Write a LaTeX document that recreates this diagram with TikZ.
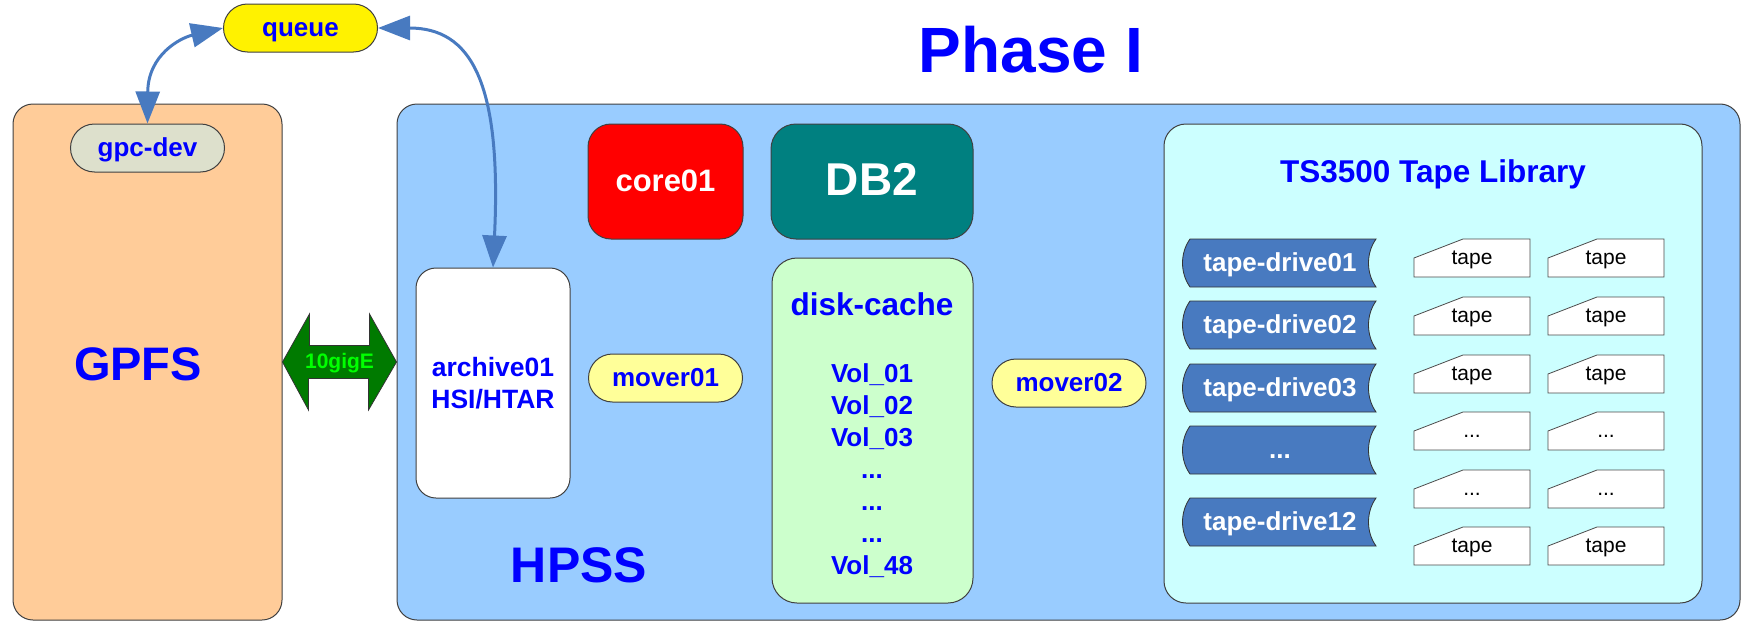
\documentclass[tikz,border=0pt]{standalone}
\usepackage{fontspec}
\setmainfont{Liberation Sans}
\usetikzlibrary{arrows.meta, positioning, calc}
\definecolor{gpfsorange}{RGB}{255,204,153}
\definecolor{hpssblue}{RGB}{153,204,255}
\definecolor{libcyan}{RGB}{204,255,255}
\definecolor{diskgreen}{RGB}{204,255,204}
\definecolor{moveryellow}{RGB}{255,255,153}
\definecolor{gpcgray}{RGB}{221,224,204}
\definecolor{driveblue}{RGB}{72,122,192}
\definecolor{dbteal}{RGB}{0,128,128}
\definecolor{linkgreen}{RGB}{0,122,0}
\definecolor{litegreen}{RGB}{0,255,0}
\newcommand{\fsz}[1]{\fontsize{#1}{#1}\selectfont\bfseries}
\newcommand{\tdots}{...}

\begin{document}
\begin{tikzpicture}[x=1pt, y=-1pt,
    frame/.style={draw=black!75, line width=1pt, rounded corners=20pt},
    pill/.style={frame, rounded corners=24pt, minimum width=154pt, minimum height=48pt,
        text=blue, font=\fsz{26}, text height=18.7pt, text depth=2.6pt},
    bigtext/.style={text=blue, anchor=base},
    driveline/.style={draw=black!80, line width=0.8pt, fill=driveblue},
    drivetext/.style={text=white, font=\fsz{26}, text height=18.7pt, text depth=2.6pt},
    tapeline/.style={draw=black!70, line width=0.8pt, fill=white},
    tapetext/.style={font=\fontsize{21}{21}\selectfont, text height=15.1pt, text depth=2.1pt},
    linkarrow/.style={driveblue, line width=3pt,
        arrows={Triangle[length=32pt,width=24pt]-Triangle[length=32pt,width=24pt]}}]
    \useasboundingbox (0,0) rectangle (1743,621);

    % Title
    \node[bigtext, font=\fsz{64}] (phase) at (1031,72) {Phase I};

    % GPFS side
    \node[frame, fill=gpfsorange, minimum width=269pt, minimum height=516pt] (gpfs) at (147.5,362) {};
    \node[bigtext, font=\fsz{47}] (gpfslbl) at (138,380) {GPFS};
    \node[pill, fill=gpcgray] (gpcdev) at (147.5,148) {gpc-dev};
    \node[pill, fill=yellow] (queue) at (300.5,28) {queue};

    % HPSS side
    \node[frame, fill=hpssblue, minimum width=1343pt, minimum height=516pt] (hpss) at (1068.5,362) {};
    \node[bigtext, font=\fsz{50}] (hpsslbl) at (579,582) {HPSS};
    \node[frame, fill=red, text=white, font=\fsz{31}, rounded corners=23pt, minimum width=155pt,
        minimum height=115pt, text height=22.3pt, text depth=3.1pt] (core) at (665.5,181.5) {core01};
    \node[frame, fill=dbteal, text=white, font=\fsz{46}, rounded corners=25pt, minimum width=202pt,
        minimum height=115pt, text height=33.1pt, text depth=4.6pt] (db) at (872,181.5) {DB2};
    \node[frame, fill=white, text=blue, font=\fontsize{26.5}{32}\selectfont\bfseries, align=center,
        minimum width=154pt, minimum height=230pt] (archive) at (493,383) {archive01\\HSI/HTAR};
    \node[pill, fill=moveryellow] (moverone) at (665.5,378) {mover01};

    % Disk cache
    \node[frame, fill=diskgreen, rounded corners=25pt, minimum width=201pt, minimum height=345pt] (disk) at (872.5,430.5) {};
    \node[bigtext, font=\fsz{31.5}] (disklbl) at (872,315) {disk-cache};
    \node[text=blue, font=\fontsize{26}{32}\selectfont\bfseries, align=center] (vols) at (872,471)
        {Vol\_01\\Vol\_02\\Vol\_03\\...\\...\\...\\Vol\_48};
    \node[pill, fill=moveryellow] (movertwo) at (1069,383) {mover02};

    % Tape library
    \node[frame, fill=libcyan, rounded corners=22pt, minimum width=538pt, minimum height=479pt] (library) at (1433,363.5) {};
    \node[bigtext, font=\fsz{31.5}] (liblbl) at (1433,182) {TS3500 Tape Library};
    \foreach \n/\y/\txt in {1/263/tape-drive01, 2/325/tape-drive02, 3/388/tape-drive03, 4/450/\tdots, 5/522/tape-drive12} {
        \filldraw[driveline] (1190,\y-24) -- (1376,\y-24) .. controls (1366,\y-10) and (1366,\y+10) .. (1376,\y+24)
            -- (1190,\y+24) .. controls (1180,\y+10) and (1180,\y-10) .. (1190,\y-24) -- cycle;
        \node[drivetext] (drive\n) at (1280,\y) {\txt};
    }
    \foreach \c/\x in {1/1472, 2/1606}
        \foreach \r/\y/\txt in {1/258/tape, 2/316/tape, 3/374/tape, 4/431/\tdots, 5/489/\tdots, 6/546/tape} {
            \filldraw[tapeline] (\x-58,\y+19) -- (\x-58,\y) -- (\x-9,\y-19) -- (\x+58,\y-19) -- (\x+58,\y+19) -- cycle;
            \node[tapetext] (tape\c\r) at (\x,\y) {\txt};
        }

    % 10gigE link
    \filldraw[draw=black!80, line width=0.8pt, fill=linkgreen] (gpfs.east) -- ++(27,-48) -- ++(0,31.5) -- ++(60,0)
        -- ++(0,-31.5) -- (hpss.west) -- ++(-28,48) -- ++(0,-31.5) -- ++(-60,0) -- ++(0,31.5) -- cycle;
    \node[font=\fsz{21}, text=litegreen] (link) at (339.5,363) {10gigE};

    % queue connectors
    \draw[linkarrow] (gpcdev.north) .. controls (148,55) and (180,38) .. (queue.west);
    \draw[linkarrow] (queue.east) .. controls (470,28) and (502,80) .. (archive.north);
\end{tikzpicture}
\end{document}
